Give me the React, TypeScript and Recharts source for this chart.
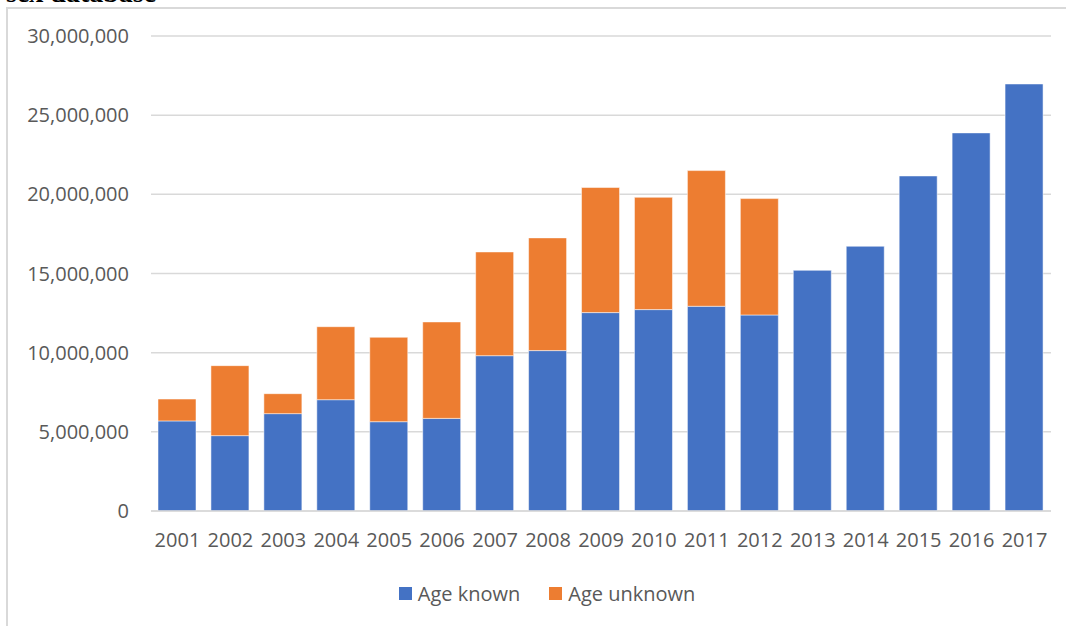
import React from 'react';
import { BarChart, Bar, XAxis, YAxis, CartesianGrid, Legend } from 'recharts';

const years = ['2001','2002','2003','2004','2005','2006','2007','2008','2009','2010','2011','2012','2013','2014','2015','2016','2017'];
const ageKnown = [5690000,4760000,6150000,7030000,5640000,5850000,9810000,10130000,12530000,12720000,12930000,12380000,15200000,16720000,21160000,23880000,26970000];
const ageUnknown = [1380000,4420000,1260000,4610000,5330000,6090000,6550000,7120000,7900000,7090000,8570000,7350000,0,0,0,0,0];
const yTicks = [0,5000000,10000000,15000000,20000000,25000000,30000000];
const seriesNames = ['Age known','Age unknown'];
const colors = ['#4472C4','#ED7D31'];

const data = years.map((y, i) => ({ year: y, known: ageKnown[i], unknown: ageUnknown[i] }));

const FONT = '"Open Sans", sans-serif';

const renderLegend = () => (
  <div style={{ display: 'flex', justifyContent: 'center', alignItems: 'center', fontFamily: FONT, fontSize: 20, color: '#595959', height: 30, paddingLeft: 43 }}>
    {seriesNames.map((n, i) => (
      <div key={n} style={{ display: 'flex', alignItems: 'center', marginRight: i === 0 ? 29 : 0 }}>
        <div style={{ width: 13, height: 13, background: colors[i], marginRight: 6 }} />
        <span>{n}</span>
      </div>
    ))}
  </div>
);

export default function App() {
  return (
    <div style={{ position: 'absolute', left: 0, top: 0, width: 1066, height: 626, overflow: 'hidden', background: '#fff' }}>
      <div style={{ position: 'absolute', left: 6, top: -23, fontFamily: '"Liberation Serif", serif', fontWeight: 'bold', fontSize: 28, whiteSpace: 'nowrap', color: '#000' }}>sex database</div>
      <div style={{ position: 'absolute', left: 6, top: 7, width: 1080, height: 700, border: '2px solid #d9d9d9', boxSizing: 'border-box' }} />
      <div style={{ position: 'absolute', left: 0, top: 0 }}>
        <BarChart width={1066} height={626} data={data} margin={{ top: 36, right: 15, left: 0, bottom: 18 }} barSize={38}>
          <CartesianGrid vertical={false} stroke="#d9d9d9" strokeWidth={1.5} />
          <XAxis dataKey="year" axisLine={{ stroke: '#d9d9d9', strokeWidth: 1.5 }} tickLine={false} tickSize={0} tickMargin={22} height={67}
            tick={{ fill: '#595959', fontSize: 20, fontFamily: FONT }} interval={0} />
          <YAxis width={151} domain={[0, 30000000]} ticks={yTicks} axisLine={false} tickLine={false} tickSize={0} tickMargin={22}
            tickFormatter={(v: number) => v.toLocaleString('en-US')}
            tick={{ fill: '#595959', fontSize: 20, fontFamily: FONT }} />
          <Legend verticalAlign="bottom" content={renderLegend} />
          <Bar dataKey="known" name={seriesNames[0]} stackId="a" fill={colors[0]} stroke="#ffffff" strokeOpacity={0.5} strokeWidth={1} isAnimationActive={false} />
          <Bar dataKey="unknown" name={seriesNames[1]} stackId="a" fill={colors[1]} stroke="#ffffff" strokeOpacity={0.5} strokeWidth={1} isAnimationActive={false} />
        </BarChart>
      </div>
    </div>
  );
}
